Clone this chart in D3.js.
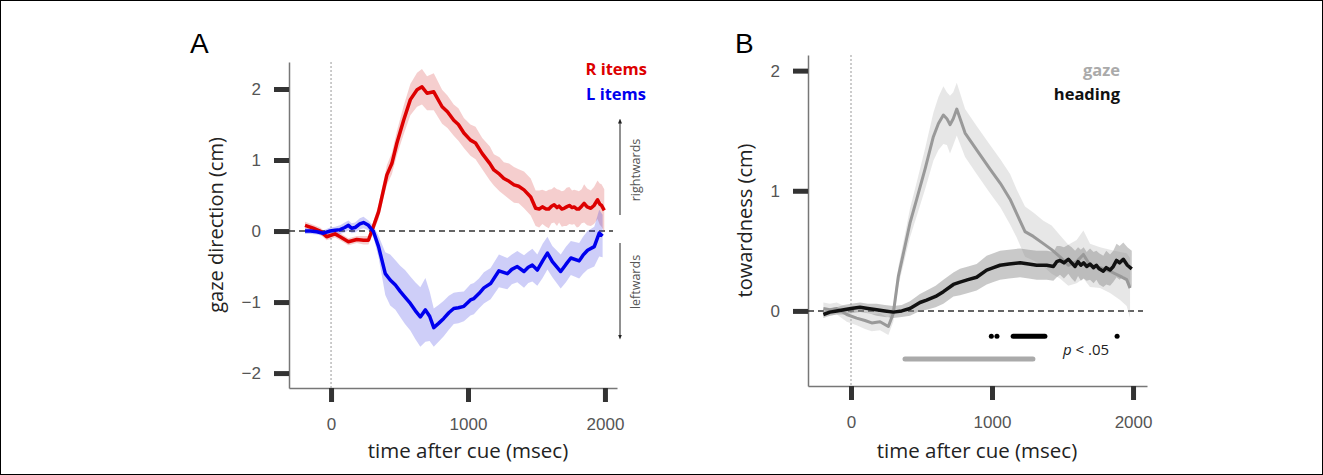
<!DOCTYPE html>
<html>
<head>
<meta charset="utf-8">
<script src="https://cdn.jsdelivr.net/npm/d3@7"></script>
<style>
  body { margin: 0; background: #fff; }
  svg { display: block; }
</style>
</head>
<body>
<div class="root"></div>
<script>
// panel A: gaze direction for R / L items (time in msec, value in cm, ci = half width of band)
var rTime = [-190,-130,-80,-32,29,66,127,188,237,273,305,347,383,408,444,481,530,579,628,664,701,750,811,850,896,930,970,1018,1055,1104,1160,1189,1230,1262,1300,1336,1370,1409,1458,1494,1520,1543,1570,1590,1610,1629,1650,1665,1685,1702,1720,1740,1760,1775,1795,1810,1830,1848,1870,1897,1920,1946,1962,1975,1995];
var rMean = [0.08,0.04,0.0,-0.08,-0.04,-0.08,-0.15,-0.12,-0.13,-0.13,0.04,0.27,0.58,0.79,0.95,1.24,1.56,1.85,1.99,2.03,1.94,1.96,1.75,1.68,1.56,1.5,1.38,1.28,1.24,1.09,0.95,0.86,0.8,0.74,0.7,0.65,0.63,0.58,0.48,0.32,0.31,0.34,0.31,0.31,0.35,0.37,0.33,0.35,0.31,0.32,0.34,0.36,0.33,0.34,0.31,0.31,0.35,0.39,0.34,0.32,0.36,0.44,0.38,0.36,0.29];
var rCI = [0.05,0.05,0.05,0.05,0.05,0.05,0.05,0.05,0.06,0.06,0.07,0.1,0.12,0.14,0.15,0.17,0.2,0.22,0.24,0.25,0.24,0.26,0.24,0.23,0.22,0.23,0.21,0.22,0.23,0.22,0.24,0.22,0.24,0.23,0.25,0.25,0.24,0.26,0.26,0.25,0.26,0.24,0.25,0.27,0.24,0.25,0.26,0.23,0.25,0.25,0.27,0.26,0.24,0.24,0.26,0.25,0.24,0.27,0.26,0.25,0.26,0.27,0.29,0.3,0.3];

var lTime = [-190,-150,-105,-56,-7,30,66,100,127,150,176,210,237,273,310,347,396,432,470,505,540,579,615,652,689,720,750,785,823,860,896,930,970,1018,1043,1080,1116,1165,1226,1287,1320,1360,1409,1440,1470,1506,1545,1580,1616,1677,1715,1751,1812,1840,1873,1922,1958,1983];
var lMean = [0.0,0.0,-0.01,-0.03,0.0,0.01,0.02,0.05,0.08,0.04,0.05,0.1,0.12,0.08,-0.01,-0.22,-0.6,-0.69,-0.76,-0.85,-0.93,-1.02,-1.12,-1.21,-1.11,-1.2,-1.36,-1.3,-1.23,-1.15,-1.09,-1.08,-1.06,-0.97,-0.95,-0.88,-0.8,-0.74,-0.56,-0.6,-0.54,-0.5,-0.57,-0.51,-0.48,-0.55,-0.42,-0.31,-0.43,-0.57,-0.47,-0.38,-0.42,-0.34,-0.27,-0.22,-0.03,-0.07];
var lCI = [0.04,0.04,0.04,0.04,0.05,0.05,0.06,0.07,0.07,0.07,0.07,0.08,0.08,0.07,0.08,0.15,0.3,0.36,0.35,0.36,0.38,0.38,0.4,0.42,0.45,0.35,0.27,0.26,0.25,0.24,0.22,0.22,0.21,0.22,0.22,0.21,0.22,0.22,0.23,0.22,0.21,0.22,0.23,0.22,0.23,0.22,0.24,0.23,0.22,0.24,0.25,0.24,0.25,0.26,0.27,0.28,0.33,0.3];

// panel B: towardness of gaze and heading
var gazeTime = [-196,-150,-101,-30,40,99,147,206,265,300,336,383,418,466,525,584,620,655,680,702,725,750,809,891,986,1060,1128,1175,1234,1293,1364,1423,1482,1541,1600,1648,1695,1766,1837,1908,1955,1979];
var gazeMean = [0.02,0.01,0.02,-0.03,-0.06,-0.08,-0.1,-0.09,-0.13,-0.02,0.29,0.54,0.73,0.93,1.18,1.45,1.56,1.63,1.6,1.55,1.6,1.68,1.48,1.34,1.18,1.06,0.93,0.81,0.66,0.62,0.56,0.51,0.45,0.38,0.41,0.47,0.38,0.36,0.33,0.29,0.26,0.19];
var gazeCI = [0.05,0.05,0.05,0.06,0.06,0.07,0.07,0.07,0.07,0.07,0.08,0.1,0.12,0.14,0.17,0.2,0.22,0.24,0.22,0.24,0.22,0.22,0.2,0.2,0.2,0.2,0.21,0.2,0.21,0.2,0.19,0.2,0.18,0.17,0.18,0.2,0.18,0.17,0.18,0.2,0.22,0.25];

var headTime = [-196,-150,-101,-50,0,64,120,182,240,300,360,418,489,536,600,655,726,773,830,891,962,1010,1057,1120,1199,1260,1317,1388,1435,1459,1482,1510,1541,1565,1589,1610,1630,1650,1671,1695,1720,1740,1760,1789,1810,1837,1860,1883,1905,1931,1960,1991];
var headMean = [-0.03,-0.01,0.0,0.01,0.02,0.03,0.02,0.01,0.0,-0.01,0.0,0.02,0.07,0.09,0.12,0.16,0.22,0.24,0.26,0.28,0.34,0.36,0.38,0.39,0.4,0.39,0.38,0.38,0.37,0.41,0.42,0.4,0.43,0.4,0.37,0.41,0.38,0.4,0.37,0.39,0.36,0.38,0.35,0.33,0.36,0.34,0.37,0.42,0.4,0.43,0.38,0.35];
var headCI = [0.03,0.03,0.03,0.04,0.04,0.04,0.04,0.05,0.05,0.05,0.05,0.06,0.07,0.08,0.09,0.1,0.1,0.11,0.11,0.11,0.12,0.12,0.12,0.12,0.12,0.12,0.12,0.12,0.12,0.13,0.12,0.13,0.12,0.13,0.13,0.12,0.13,0.13,0.12,0.13,0.13,0.12,0.13,0.13,0.14,0.13,0.13,0.14,0.14,0.14,0.15,0.15];

// significant time windows (msec)
var sigHeading = [[995,995],[1035,1035],[1150,1375],[1887,1887]];
var sigGaze = [[383,1290]];

var ticksAY = [-2,-1,0,1,2];
var ticksBY = [0,1,2];
var ticksX = [0,1000,2000];

var w = 1323, h = 475;

var svg = d3.select('.root').append('svg')
  .attr('width', w)
  .attr('height', h);

svg.append('rect')
  .attr('x', 0.5).attr('y', 0.5)
  .attr('width', w - 1).attr('height', h - 1)
  .attr('fill', '#fff').attr('stroke', '#000');

function zip(t, m, ci) {
  return t.map(function(d, i) { return {t: d, m: m[i], ci: ci[i]}; });
}

function drawAxes(g, x, y, yTicks, ytitle, ytitleX, xtitleX) {
  var ax = g.append('g')
    .attr('transform', 'translate(0,' + y.range()[0] + ')')
    .call(d3.axisBottom(x).tickValues(ticksX).tickFormat(d3.format('d')).tickSizeInner(14).tickSizeOuter(0).tickPadding(16));
  var ay = g.append('g')
    .attr('transform', 'translate(' + x.range()[0] + ',0)')
    .call(d3.axisLeft(y).tickValues(yTicks).tickFormat(d3.format('d')).tickSizeInner(15).tickSizeOuter(0).tickPadding(13));
  [ax, ay].forEach(function(a) {
    a.select('.domain').attr('stroke', '#777').attr('stroke-width', 1.5);
    a.selectAll('.tick line').attr('stroke', '#333').attr('stroke-width', 5);
    a.selectAll('.tick text')
      .attr('fill', '#555')
      .style('font-family', '"Liberation Sans", Arial, sans-serif')
      .style('font-size', '17px');
  });
  ay.selectAll('.tick text').text(function(d) { return d < 0 ? '\u2212' + Math.abs(d) : d; });

  g.append('text')
    .attr('x', xtitleX).attr('y', 458)
    .attr('text-anchor', 'middle')
    .style('font-family', '"Open Sans", sans-serif')
    .style('font-size', '20.5px')
    .attr('fill', '#222')
    .text('time after cue (msec)');

  g.append('text')
    .attr('transform', 'translate(' + ytitleX + ',' + ((y.range()[0] + y.range()[1]) / 2) + ') rotate(-90)')
    .attr('text-anchor', 'middle')
    .style('font-family', '"Open Sans", sans-serif')
    .style('font-size', '20px')
    .attr('fill', '#222')
    .text(ytitle);

  // dotted cue line and dashed zero line
  g.append('line')
    .attr('x1', x(0)).attr('x2', x(0))
    .attr('y1', y.range()[1]).attr('y2', y.range()[0])
    .attr('stroke', '#999').attr('stroke-width', 1).attr('stroke-dasharray', '2,2');
  g.append('line')
    .attr('x1', x.range()[0]).attr('x2', x.range()[1] - 4)
    .attr('y1', y(0)).attr('y2', y(0))
    .attr('stroke', '#333').attr('stroke-width', 1.5).attr('stroke-dasharray', '6,4');
}

function drawSeries(g, x, y, data, bandFill, bandOpacity, lineColor, lineWidth) {
  var area = d3.area()
    .x(function(d) { return x(d.t); })
    .y0(function(d) { return y(d.m - d.ci); })
    .y1(function(d) { return y(d.m + d.ci); });
  var line = d3.line()
    .x(function(d) { return x(d.t); })
    .y(function(d) { return y(d.m); });
  g.append('path').datum(data)
    .attr('d', area)
    .attr('fill', bandFill)
    .attr('fill-opacity', bandOpacity);
  return function() {
    g.append('path').datum(data)
      .attr('d', line)
      .attr('fill', 'none')
      .attr('stroke', lineColor)
      .attr('stroke-width', lineWidth)
      .attr('stroke-linejoin', 'round');
  };
}

// ---------- panel A ----------
var xA = d3.scaleLinear().domain([-307, 2088]).range([289, 617]);
var yA = d3.scaleLinear().domain([-2.21, 2.38]).range([388, 62]);
var gA = svg.append('g');

drawAxes(gA, xA, yA, ticksAY, 'gaze direction (cm)', 223, 468);

var rLine = drawSeries(gA, xA, yA, zip(rTime, rMean, rCI), '#d02020', 0.22, '#dd0000', 3.5);
var lLine = drawSeries(gA, xA, yA, zip(lTime, lMean, lCI), '#2020e0', 0.22, '#0000ee', 3.5);
rLine();
lLine();

gA.append('text')
  .attr('x', 190).attr('y', 53)
  .style('font-family', '"Liberation Sans", Arial, sans-serif')
  .style('font-size', '28px')
  .text('A');

gA.append('text')
  .attr('x', 647).attr('y', 75)
  .attr('text-anchor', 'end')
  .attr('fill', '#dd0000')
  .style('font-family', '"Open Sans", sans-serif')
  .style('font-size', '16.5px').style('font-weight', 'bold')
  .text('R items');
gA.append('text')
  .attr('x', 646).attr('y', 100)
  .attr('text-anchor', 'end')
  .attr('fill', '#0000ee')
  .style('font-family', '"Open Sans", sans-serif')
  .style('font-size', '16.5px').style('font-weight', 'bold')
  .text('L items');

// direction arrows
var defs = svg.append('defs');
defs.append('marker')
  .attr('id', 'arr')
  .attr('viewBox', '0 0 10 10')
  .attr('refX', 5).attr('refY', 5)
  .attr('markerWidth', 5).attr('markerHeight', 5)
  .attr('orient', 'auto-start-reverse')
  .append('path')
    .attr('d', 'M0,1 L10,5 L0,9 z')
    .attr('fill', '#222');

gA.append('line')
  .attr('x1', 620).attr('x2', 620).attr('y1', 215).attr('y2', 121)
  .attr('stroke', '#222').attr('stroke-width', 1)
  .attr('marker-end', 'url(#arr)');
gA.append('line')
  .attr('x1', 620).attr('x2', 620).attr('y1', 243).attr('y2', 337)
  .attr('stroke', '#222').attr('stroke-width', 1)
  .attr('marker-end', 'url(#arr)');

[['rightwards', 170], ['leftwards', 282]].forEach(function(d) {
  gA.append('text')
    .attr('transform', 'translate(640,' + d[1] + ') rotate(-90)')
    .attr('text-anchor', 'middle')
    .attr('fill', '#555')
    .style('font-family', '"Open Sans", sans-serif')
    .style('font-size', '12.5px')
    .text(d[0]);
});

// ---------- panel B ----------
var xB = d3.scaleLinear().domain([-305, 2099]).range([808, 1147]);
var yB = d3.scaleLinear().domain([-0.625, 2.13]).range([386, 55]);
var gB = svg.append('g');

drawAxes(gB, xB, yB, ticksBY, 'towardness (cm)', 752, 977);

var gLine = drawSeries(gB, xB, yB, zip(gazeTime, gazeMean, gazeCI), '#bbbbbb', 0.35, '#999999', 3);
var hLine = drawSeries(gB, xB, yB, zip(headTime, headMean, headCI), '#888888', 0.45, '#111111', 3.5);
gLine();
hLine();

gB.selectAll('.sigH')
  .data(sigHeading)
  .enter().append('line')
    .attr('class', 'sigH')
    .attr('x1', function(d) { return xB(d[0]); })
    .attr('x2', function(d) { return xB(d[1]); })
    .attr('y1', yB(-0.21)).attr('y2', yB(-0.21))
    .attr('stroke', '#000').attr('stroke-width', 5)
    .attr('stroke-linecap', 'round');
gB.selectAll('.sigG')
  .data(sigGaze)
  .enter().append('line')
    .attr('class', 'sigG')
    .attr('x1', function(d) { return xB(d[0]); })
    .attr('x2', function(d) { return xB(d[1]); })
    .attr('y1', yB(-0.4)).attr('y2', yB(-0.4))
    .attr('stroke', '#aaa').attr('stroke-width', 5)
    .attr('stroke-linecap', 'round');

var pt = gB.append('text')
  .attr('x', 1063).attr('y', 355)
  .attr('fill', '#222')
  .style('font-family', '"Open Sans", sans-serif')
  .style('font-size', '15px');
pt.append('tspan').style('font-style', 'italic').text('p');
pt.append('tspan').text(' < .05');

gB.append('text')
  .attr('x', 735).attr('y', 53)
  .style('font-family', '"Liberation Sans", Arial, sans-serif')
  .style('font-size', '28px')
  .text('B');

gB.append('text')
  .attr('x', 1120).attr('y', 76)
  .attr('text-anchor', 'end')
  .attr('fill', '#aaaaaa')
  .style('font-family', '"Open Sans", sans-serif')
  .style('font-size', '16.5px').style('font-weight', 'bold')
  .text('gaze');
gB.append('text')
  .attr('x', 1120).attr('y', 100)
  .attr('text-anchor', 'end')
  .attr('fill', '#111')
  .style('font-family', '"Open Sans", sans-serif')
  .style('font-size', '16.5px').style('font-weight', 'bold')
  .text('heading');
</script>
</body>
</html>
